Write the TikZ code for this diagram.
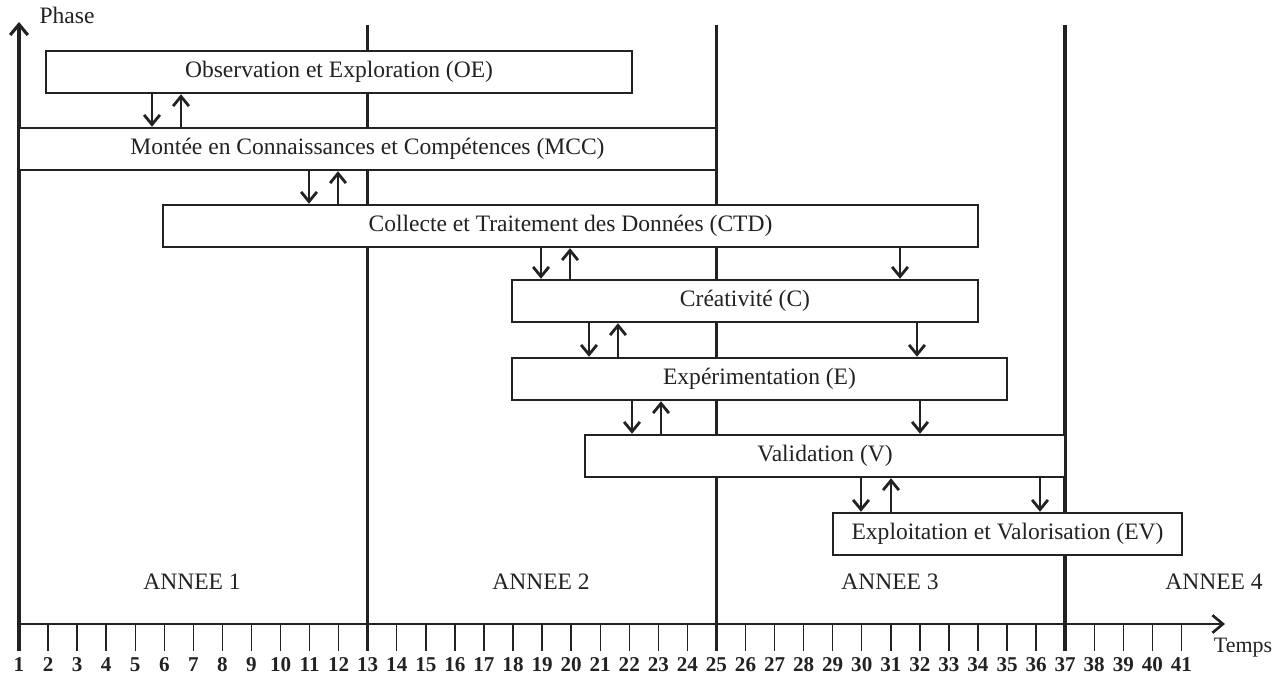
\documentclass[tikz,border=0pt]{standalone}
\usepackage{fontspec}
\setmainfont{Liberation Serif}
\usepackage{tikz}
\usetikzlibrary{arrows.meta, positioning}
\definecolor{ink}{RGB}{34, 34, 34}
\tikzstyle{phase} = [rectangle, draw=ink, fill=white, text=ink, line width=1.4pt, minimum height=0.84cm, inner sep=0pt, font=\fontsize{13.4}{16}\selectfont]
\tikzstyle{arrow} = [draw=ink, line width=1.6pt, -{Straight Barb[length=5.5pt,width=9pt]}]
\tikzstyle{axis} = [draw=ink, line width=1.5pt, -{Straight Barb[length=6pt,width=10pt]}]
\tikzstyle{year} = [draw=ink, line width=2pt]
\tikzstyle{tick} = [draw=ink, line width=0.8pt]
\tikzstyle{txt} = [text=ink, font=\fontsize{13.4}{16}\selectfont]
\tikzstyle{num} = [text=ink, font=\bfseries\fontsize{12}{14}\selectfont]

\begin{document}
\begin{tikzpicture}[x=0.02cm, y=-0.02cm]
    \useasboundingbox (0,0) rectangle (1274,678);

    % graduations and year separators
    \foreach \m in {2,...,41}
        \draw[tick] ({19+(\m-1)*29.06},624) -- ++(0,27);
    \foreach \m in {13,25,37}
        \draw[year] ({19+(\m-1)*29.06},25) -- ({19+(\m-1)*29.06},651);
    \foreach \m in {1,...,41}
        \node[num] at ({19+(\m-1)*29.06},665) {\m};

    % axes
    \coordinate (origin) at (19,624);
    \coordinate (ytop) at (19,22);
    \coordinate (xend) at (1225,624);
    \draw[year] (origin) -- (19,651);
    \draw[axis, line width=1.8pt] (origin) -- (ytop);
    \draw[axis] (origin) -- (xend);
    \node[txt] (phase) at (67,15) {Phase};
    \node[txt, font=\fontsize{12.5}{15}\selectfont] (temps) at (1243,648) {Temps};

    % phases
    \node[phase, minimum width=11.72cm] (oe) at (339,72) {Observation et Exploration (OE)};
    \node[phase, minimum width=13.94cm] (mcc) at (367.5,149) {Mont\'ee en Connaissances et Comp\'etences (MCC)};
    \node[phase, minimum width=16.30cm] (ctd) at (570.5,226) {Collecte et Traitement des Donn\'ees (CTD)};
    \node[phase, minimum width=9.32cm] (c) at (745,301) {Cr\'eativit\'e (C)};
    \node[phase, minimum width=9.90cm] (e) at (759.5,379) {Exp\'erimentation (E)};
    \node[phase, minimum width=9.60cm] (v) at (825,456) {Validation (V)};
    \node[phase, minimum width=6.98cm] (ev) at (1007.5,534) {Exploitation et Valorisation (EV)};

    % years
    \node[txt] (a1) at (192,582) {ANNEE 1};
    \node[txt] (a2) at (541,582) {ANNEE 2};
    \node[txt] (a3) at (890,582) {ANNEE 3};
    \node[txt] (a4) at (1214,582) {ANNEE 4};

    % links between phases
    \draw[arrow] (oe.south -| 152,0) -- (mcc.north -| 152,0);
    \draw[arrow] (mcc.north -| 181,0) -- (oe.south -| 181,0);
    \draw[arrow] (mcc.south -| 309,0) -- (ctd.north -| 309,0);
    \draw[arrow] (ctd.north -| 338,0) -- (mcc.south -| 338,0);
    \draw[arrow] (ctd.south -| 541,0) -- (c.north -| 541,0);
    \draw[arrow] (c.north -| 570,0) -- (ctd.south -| 570,0);
    \draw[arrow] (ctd.south -| 900,0) -- (c.north -| 900,0);
    \draw[arrow] (c.south -| 589,0) -- (e.north -| 589,0);
    \draw[arrow] (e.north -| 618,0) -- (c.south -| 618,0);
    \draw[arrow] (c.south -| 917,0) -- (e.north -| 917,0);
    \draw[arrow] (e.south -| 632,0) -- (v.north -| 632,0);
    \draw[arrow] (v.north -| 661,0) -- (e.south -| 661,0);
    \draw[arrow] (e.south -| 920,0) -- (v.north -| 920,0);
    \draw[arrow] (v.south -| 861,0) -- (ev.north -| 861,0);
    \draw[arrow] (ev.north -| 891,0) -- (v.south -| 891,0);
    \draw[arrow] (v.south -| 1040,0) -- (ev.north -| 1040,0);
\end{tikzpicture}
\end{document}
